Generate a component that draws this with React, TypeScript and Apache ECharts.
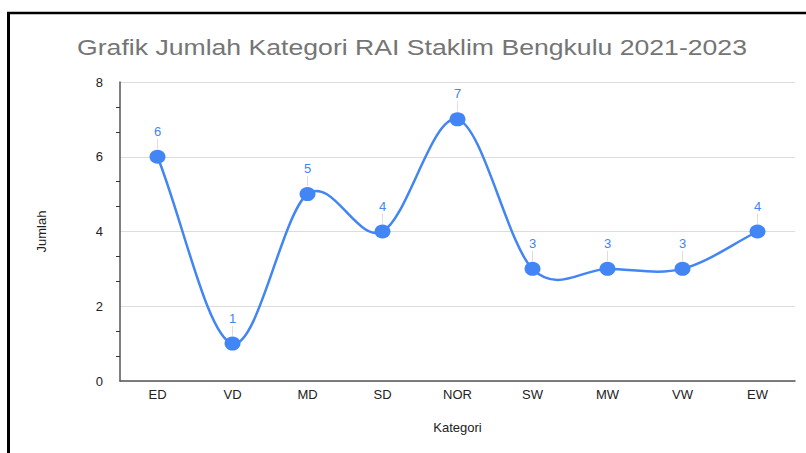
import React, { useEffect, useRef } from "react";
import * as echarts from "echarts";

const categories = ["ED", "VD", "MD", "SD", "NOR", "SW", "MW", "VW", "EW"];
const values = [6, 1, 5, 4, 7, 3, 3, 3, 4];
const yTicks = [0, 2, 4, 6, 8];
const titleText = "Grafik Jumlah Kategori RAI Staklim Bengkulu 2021-2023";
const yName = "Jumlah";
const xName = "Kategori";

export default function App() {
  const ref = useRef<HTMLDivElement>(null);
  useEffect(() => {
    const chart = echarts.init(ref.current!, undefined, { renderer: "svg" });
    const font = "Arial, 'Liberation Sans', sans-serif";
    const blue = "#4285F4";
    const renderCurve = (params: any, api: any) => {
      const i = params.dataIndex;
      const n = values.length;
      const c = values.map((v, k) => api.coord([k, v]));
      const children: any[] = [];
      const p = c[i];
      children.push({
        type: "line",
        shape: { x1: p[0], y1: p[1] - 8, x2: p[0], y2: p[1] - 18 },
        style: { stroke: "#dddddd", lineWidth: 1 },
      });
      if (i < n - 1) {
        const p0 = c[i];
        const p1 = c[i + 1];
        const prev = i > 0 ? c[i - 1] : [2 * p0[0] - p1[0], 2 * p0[1] - p1[1]];
        const next = i + 2 < n ? c[i + 2] : [2 * p1[0] - p0[0], 2 * p1[1] - p0[1]];
        children.push({
          type: "bezierCurve",
          shape: {
            x1: p0[0],
            y1: p0[1],
            x2: p1[0],
            y2: p1[1],
            cpx1: p0[0] + (p1[0] - prev[0]) / 6,
            cpy1: p0[1] + (p1[1] - prev[1]) / 6,
            cpx2: p1[0] - (next[0] - p0[0]) / 6,
            cpy2: p1[1] - (next[1] - p0[1]) / 6,
          },
          style: { stroke: blue, lineWidth: 2.5, fill: "none" },
        });
      }
      return { type: "group", children };
    };
    chart.setOption({
      animation: false,
      backgroundColor: "#fff",
      textStyle: { fontFamily: font },
      grid: { left: 120, right: 11, top: 82, bottom: 72 },
      xAxis: {
        type: "category",
        data: categories,
        boundaryGap: true,
        name: xName,
        nameLocation: "middle",
        nameGap: 40,
        nameTextStyle: { color: "#222", fontSize: 13, fontFamily: font },
        axisLine: { lineStyle: { color: "#555", width: 1.5 } },
        axisTick: { show: false },
        axisLabel: { color: "#222", fontSize: 13, margin: 7, fontFamily: font },
      },
      yAxis: [
        {
          type: "value",
          min: yTicks[0],
          max: yTicks[yTicks.length - 1],
          interval: 2,
          name: yName,
          nameLocation: "middle",
          nameGap: 72,
          nameTextStyle: { color: "#222", fontSize: 13, fontFamily: font },
          axisLine: { show: true, lineStyle: { color: "#555", width: 1.5 } },
          axisTick: { show: false },
          minorTick: { show: true, splitNumber: 3, length: 4, lineStyle: { color: "#333", width: 1 } },
          axisLabel: { color: "#222", fontSize: 13, margin: 17, fontFamily: font },
          splitLine: { lineStyle: { color: "#dddddd", width: 1 } },
        },
        {
          type: "value",
          position: "left",
          min: yTicks[0],
          max: yTicks[yTicks.length - 1],
          interval: 2,
          axisLine: { show: false },
          axisTick: { show: false },
          minorTick: { show: true, splitNumber: 3, length: 4, lineStyle: { color: "#333", width: 1 } },
          axisLabel: { show: false, inside: true },
          splitLine: { show: false },
        },
      ],
      series: [
        {
          type: "custom",
          data: values.map((v, i) => [i, v]),
          renderItem: renderCurve,
          z: 1,
          silent: true,
        },
        {
          type: "line",
          data: values,
          symbol: "circle",
          symbolSize: [16, 14],
          z: 3,
          itemStyle: { color: blue },
          lineStyle: { opacity: 0, width: 0 },
          label: {
            show: true,
            position: "top",
            distance: 12,
            color: blue,
            fontSize: 13,
            fontFamily: font,
          },
        },
      ],
      graphic: [
        {
          type: "text",
          x: 412,
          y: 47,
          scaleX: 1.21,
          style: {
            text: titleText,
            x: 0,
            y: 0,
            textAlign: "center",
            textVerticalAlign: "middle",
            fill: "#757575",
            fontSize: 22,
            fontFamily: font,
          },
        },
        { type: "line", shape: { x1: 7, y1: 13, x2: 806, y2: 13 }, style: { stroke: "#000", lineWidth: 2.5 } },
        { type: "line", shape: { x1: 8.5, y1: 12, x2: 8.5, y2: 453 }, style: { stroke: "#000", lineWidth: 3 } },
      ],
    });
    return () => chart.dispose();
  }, []);
  return <div ref={ref} style={{ width: 806, height: 453, position: "fixed", left: 0, top: 0 }} />;
}
